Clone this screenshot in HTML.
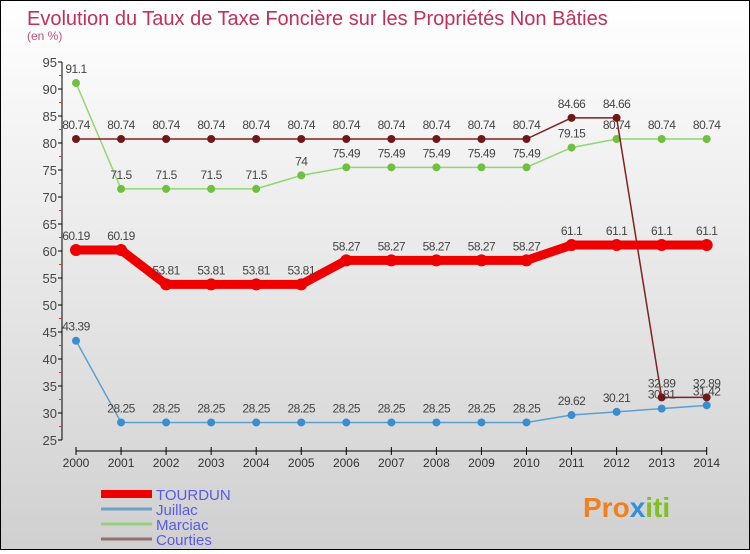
<!DOCTYPE html>
<html><head><meta charset="utf-8"><style>
html,body{margin:0;padding:0}
body{width:750px;height:550px;overflow:hidden;font-family:"Liberation Sans",sans-serif}
#wrap{position:relative;width:748px;height:548px;border:1px solid #000;background:linear-gradient(#ffffff,#d0d0d0)}
svg text{font-family:"Liberation Sans",sans-serif}
</style></head><body>
<div id="wrap">
<svg id="chart" width="748" height="548">
<text x="26" y="24" font-size="20" fill="#c0305a">Evolution du Taux de Taxe Foncière sur les Propriétés Non Bâties</text>
<text x="26" y="39" font-size="12" fill="#c0507a">(en %)</text>
<g id="axes"></g><g id="series"></g><g id="legend"></g>
<text x="582" y="516" font-size="28" font-weight="bold" fill="#f08020">Pro<tspan fill="#3090e0">x</tspan><tspan fill="#80c020">iti</tspan></text>
</svg></div>
<script>
const years=[2000,2001,2002,2003,2004,2005,2006,2007,2008,2009,2010,2011,2012,2013,2014];
const yTicks=[25,30,35,40,45,50,55,60,65,70,75,80,85,90,95];
const tourdun=[60.19,60.19,53.81,53.81,53.81,53.81,58.27,58.27,58.27,58.27,58.27,61.1,61.1,61.1,61.1];
const juillac=[43.39,28.25,28.25,28.25,28.25,28.25,28.25,28.25,28.25,28.25,28.25,29.62,30.21,30.81,31.42];
const marciac=[91.1,71.5,71.5,71.5,71.5,74,75.49,75.49,75.49,75.49,75.49,79.15,80.74,80.74,80.74];
const courties=[80.74,80.74,80.74,80.74,80.74,80.74,80.74,80.74,80.74,80.74,80.74,84.66,84.66,32.89,32.89];
const NS="http://www.w3.org/2000/svg";
const X=i=>75+i*45.05, Y=v=>439-(v-25)*5.4;
function mk(t,a,p){const e=document.createElementNS(NS,t);for(const k in a)e.setAttribute(k,a[k]);(p||document.getElementById('series')).appendChild(e);return e;}
const ax=document.getElementById('axes');
let e=mk('line',{x1:61,y1:Y(95),x2:61,y2:Y(25),stroke:'#000'},ax);

yTicks.forEach(v=>{mk('line',{x1:57,y1:Y(v),x2:61,y2:Y(v),stroke:'#000'},ax);
 if(v<95)mk('line',{x1:58,y1:Y(v+2.5),x2:61,y2:Y(v+2.5),stroke:'#e03030'},ax);
 const t=mk('text',{x:56,y:Y(v)+5,'font-size':13,fill:'#444','text-anchor':'end'},ax);t.textContent=v;
 });
e=mk('line',{x1:X(0),y1:450,x2:X(14),y2:450,stroke:'#000'},ax);

years.forEach((y,i)=>{mk('line',{x1:X(i),y1:446,x2:X(i),y2:454,stroke:'#000'},ax);
 const t=mk('text',{x:X(i),y:466,'font-size':12,fill:'#333','text-anchor':'middle'},ax);t.textContent=y;
 });
function series(name,d,col,w,r,dot,lab){
 const g=mk('g',{});
 mk('polyline',{points:d.map((v,i)=>X(i)+','+Y(v)).join(' '),fill:'none',stroke:col,'stroke-width':w,'stroke-linejoin':'round'},g);
 d.forEach((v,i)=>{const c=mk('circle',{cx:X(i),cy:Y(v),r:r,fill:dot},g);
  
  const t=mk('text',{x:X(i),y:Y(v)-10,'font-size':12,fill:'#444','text-anchor':'middle','letter-spacing':'-0.5'},g);t.textContent=String(v);
  });
}
series('juillac',juillac,'#5ba0d0',1.5,4,'#3a8ed0');
series('marciac',marciac,'#90d870',1.5,4,'#70c040');
series('courties',courties,'#802020',1.5,4,'#701818');
series('tourdun',tourdun,'#ee0000',9,6,'#ee0000');
const lg=document.getElementById('legend');
[['TOURDUN','#ee0000',8],['Juillac','#6ea0c8',3],['Marciac','#98d080',3],['Courties','#907070',3]].forEach((s,i)=>{
 const y=493+i*15;
 const l=mk('line',{x1:100,y1:y,x2:151,y2:y,stroke:s[1],'stroke-width':s[2]},lg);
 
 const t=mk('text',{x:155,y:y+6,'font-size':15,fill:'#5a5ae8'},lg);t.textContent=s[0];
 });
</script></body></html>
